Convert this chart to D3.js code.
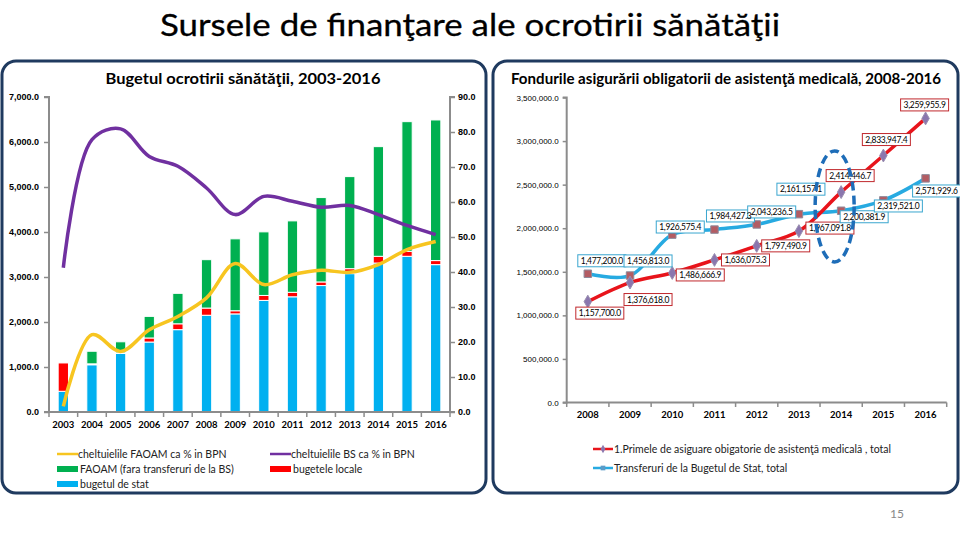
<!DOCTYPE html>
<html><head><meta charset="utf-8">
<script src="https://cdn.jsdelivr.net/npm/d3@7"></script>
<style>
html,body{margin:0;padding:0;background:#fff;}
svg{display:block;font-family:Lato,"Open Sans",sans-serif;}
</style></head>
<body>
<svg id="c" width="960" height="540"></svg>
<script>
// ---------- DATA ----------
const years = [2003,2004,2005,2006,2007,2008,2009,2010,2011,2012,2013,2014,2015,2016];
const bugetulDeStat   = [460,1050,1300,1555,1830,2150,2180,2480,2560,2810,3075,3310,3460,3275];
const bugeteleLocale  = [630,20,15,90,130,160,70,110,100,80,110,150,110,90];
const faoamFaraBS     = [0,280,245,480,677,1075,1598,1413,1587,1875,2046,2437,2882,3125];
const faoamPctBPN     = [1.6,22.1,17.3,23.5,27.3,32.6,42.4,36.4,39.2,40.5,39.9,42.1,46.4,48.7];
const bsPctBPN        = [41.2,77.8,80.9,73.0,70.2,64.0,56.4,61.6,60.2,58.5,59.0,56.4,53.3,50.7];
const leftTicks  = [0,1000,2000,3000,4000,5000,6000,7000];
const rightTicks = [0,10,20,30,40,50,60,70,80,90];

const fundYears  = [2008,2009,2010,2011,2012,2013,2014,2015,2016];
const primele    = [1157700.0,1376618.0,1486666.9,1636075.3,1797490.9,1967091.8,2414446.7,2833947.4,3259955.9];
const transferuri= [1477200.0,1456813.0,1926575.4,1984427.3,2043236.5,2161157.1,2200381.9,2319521.0,2571929.6];
const fundTicks  = [0,500000,1000000,1500000,2000000,2500000,3000000,3500000];

// label offsets (layout only)
const primeleLabelOff = [[12,11.5],[18,17],[28,2],[31,0],[29,0],[31,-3],[9,-16.5],[3,-16],[-1,-13.5]];
const transfLabelOff  = [[14,-13],[18,-14.6],[8,-7.6],[16,-13.6],[15,-12.5],[2,-25],[23,6],[15,5.6],[11,12.6]];

// ---------- SETUP ----------
const svg = d3.select("#c");
const C = {blue:"#00B0F0", red:"#FF0000", green:"#00B050", yellow:"#F7C520", purple:"#7030A0",
           axis:"#8C8C8C", frame:"#1F3A5F", rLine:"#E8141B", bLine:"#27AAE1"};

function fitText(sel, w){ sel.attr("textLength", w).attr("lengthAdjust","spacingAndGlyphs"); }

// main title
svg.append("text").attr("x",470).attr("y",36).attr("text-anchor","middle")
  .attr("font-size",31).attr("fill","#000").attr("stroke","#000").attr("stroke-width",0.3)
  .text("Sursele de finanţare ale ocrotirii sănătăţii")
  .call(fitText, 620);

// frames
function frame(x0,x1,y0,y1,r){
  const p = d3.path();
  p.moveTo(x0, y0 + r); p.arcTo(x0,y0,x0+r,y0,r); p.lineTo(x1-r,y0); p.arcTo(x1,y0,x1,y0+r,r);
  p.lineTo(x1,y1-r); p.arcTo(x1,y1,x1-r,y1,r); p.lineTo(x0+r,y1); p.arcTo(x0,y1,x0,y1-r,r); p.closePath();
  svg.append("path").attr("d",p.toString()).attr("fill","none").attr("stroke",C.frame).attr("stroke-width",3);
}
frame(2,486,61,493,14);
frame(493,958,61,493,14);

// ---------- LEFT CHART ----------
const x = d3.scaleBand().domain(years).range([49,450]).paddingInner(0.64).paddingOuter(0.32);
const yL = d3.scaleLinear().domain([0,7000]).range([412,97]);
const yR = d3.scaleLinear().domain([0,90]).range([412,97]);

svg.append("text").attr("x",243).attr("y",84).attr("text-anchor","middle")
  .attr("font-size",15).attr("font-weight","bold").attr("fill","#000")
  .text("Bugetul ocrotirii sănătăţii, 2003-2016").call(fitText,275);

// stacked bars
const stackData = years.map((yr,i)=>({year:yr, stat:bugetulDeStat[i], local:bugeteleLocale[i], faoam:faoamFaraBS[i]}));
const stack = d3.stack().keys(["stat","local","faoam"])(stackData);
const segColor = {stat:C.blue, local:C.red, faoam:C.green};
const gBars = svg.append("g");
stack.forEach(layer=>{
  gBars.selectAll(null).data(layer).join("rect")
    .attr("x", d=>x(d.data.year)).attr("width", x.bandwidth())
    .attr("y", d=>yL(d[1])).attr("height", d=>Math.max(0, yL(d[0])-yL(d[1])))
    .attr("fill", segColor[layer.key]).attr("stroke","#fff").attr("stroke-width",1);
});

// axes left chart
const axL = d3.axisLeft(yL).tickValues(leftTicks).tickFormat(d3.format(",.1f")).tickSize(5).tickPadding(5);
const gAL = svg.append("g").attr("transform","translate(49,0)").call(axL);
const axR = d3.axisRight(yR).tickValues(rightTicks).tickFormat(d3.format(".1f")).tickSize(5).tickPadding(3);
const gAR = svg.append("g").attr("transform","translate(450,0)").call(axR);
[gAL,gAR].forEach(g=>{
  g.select(".domain").attr("stroke",C.axis).attr("stroke-width",2).attr("d", g===gAL? "M-5,97H0V412H-5" : "M5,97H0V412H5");
  g.selectAll(".tick line").attr("stroke",C.axis).attr("stroke-width",1.5);
  g.selectAll(".tick text").attr("font-size",9).attr("font-weight","bold").attr("fill","#000");
});
// x axis
const gX = svg.append("g");
gX.append("line").attr("x1",49).attr("x2",450).attr("y1",412).attr("y2",412).attr("stroke",C.axis).attr("stroke-width",2);
gX.selectAll("line.t").data(d3.range(years.length+1)).join("line").attr("class","t")
  .attr("x1",i=>49+i*(401/years.length)).attr("x2",i=>49+i*(401/years.length))
  .attr("y1",412).attr("y2",417).attr("stroke",C.axis).attr("stroke-width",1.5);
gX.selectAll("text").data(years).join("text")
  .attr("x",d=>x(d)+x.bandwidth()/2).attr("y",428).attr("text-anchor","middle")
  .attr("font-size",9.5).attr("font-weight","bold").attr("fill","#000").text(d=>d);

// lines
const lineGen = (vals)=> d3.line().x((d,i)=>x(years[i])+x.bandwidth()/2).y(d=>yR(d)).curve(d3.curveCatmullRom.alpha(0.5))(vals);
svg.append("path").attr("d",lineGen(bsPctBPN)).attr("fill","none").attr("stroke",C.purple).attr("stroke-width",3.5);
svg.append("path").attr("d",lineGen(faoamPctBPN)).attr("fill","none").attr("stroke",C.yellow).attr("stroke-width",3.5);

// legend left
const legL = [
  {t:"line", c:C.yellow, x:57, y:454, label:"cheltuielile FAOAM ca % in BPN"},
  {t:"line", c:C.purple, x:270, y:454, label:"cheltuielile BS ca % in BPN"},
  {t:"rect", c:C.green, x:57, y:469, label:"FAOAM (fara transferuri de la BS)"},
  {t:"rect", c:C.red, x:270, y:469, label:"bugetele locale"},
  {t:"rect", c:C.blue, x:57, y:484, label:"bugetul de stat"}
];
legL.forEach(l=>{
  if(l.t==="line") svg.append("line").attr("x1",l.x).attr("x2",l.x+21).attr("y1",l.y).attr("y2",l.y).attr("stroke",l.c).attr("stroke-width",2.5);
  else svg.append("rect").attr("x",l.x).attr("y",l.y-3).attr("width",21).attr("height",6).attr("fill",l.c);
  svg.append("text").attr("x",l.x+(l.t==="line"?21:23)).attr("y",l.y+3.5).attr("font-size",10.5).attr("fill","#222").text(l.label);
});

// ---------- RIGHT CHART ----------
svg.append("text").attr("x",726).attr("y",84).attr("text-anchor","middle")
  .attr("font-size",15).attr("font-weight","bold").attr("fill","#000")
  .text("Fondurile  asigurării obligatorii de asistenţă medicală, 2008-2016").call(fitText,430);

const x2 = d3.scaleBand().domain(fundYears).range([566.7,946.7]);
const y2 = d3.scaleLinear().domain([0,3500000]).range([402.5,97.5]);
const cx = d=> x2(d)+x2.bandwidth()/2;

const ax2 = d3.axisLeft(y2).tickValues(fundTicks).tickFormat(d3.format(",.1f")).tickSize(4).tickPadding(4);
const gA2 = svg.append("g").attr("transform","translate(566.7,0)").call(ax2);
gA2.select(".domain").attr("stroke",C.axis).attr("stroke-width",2).attr("d","M-4,97.5H0V402.5H-4");
gA2.selectAll(".tick line").attr("stroke",C.axis).attr("stroke-width",1.5);
gA2.selectAll(".tick text").attr("font-size",8).attr("fill","#000");

const gX2 = svg.append("g");
gX2.append("line").attr("x1",566.7).attr("x2",946.7).attr("y1",402.5).attr("y2",402.5).attr("stroke",C.axis).attr("stroke-width",2);
gX2.selectAll("line.t").data(d3.range(fundYears.length+1)).join("line").attr("class","t")
  .attr("x1",i=>566.7+i*x2.step()).attr("x2",i=>566.7+i*x2.step())
  .attr("y1",402.5).attr("y2",407).attr("stroke",C.axis).attr("stroke-width",1.5);
gX2.selectAll("text").data(fundYears).join("text")
  .attr("x",d=>cx(d)).attr("y",418).attr("text-anchor","middle")
  .attr("font-size",9.5).attr("font-weight","bold").attr("fill","#000").text(d=>d);

const line2 = d3.line().x((d,i)=>cx(fundYears[i])).y(d=>y2(d)).curve(d3.curveCatmullRom.alpha(0.5));
svg.append("path").attr("d",line2(transferuri)).attr("fill","none").attr("stroke",C.bLine).attr("stroke-width",3.5);
svg.append("path").attr("d",line2(primele)).attr("fill","none").attr("stroke",C.rLine).attr("stroke-width",3.5);

// markers
const diamond = d3.symbol().type(d3.symbolDiamond).size(48);
const square = d3.symbol().type(d3.symbolSquare).size(56);
svg.append("g").selectAll("path").data(transferuri).join("path")
  .attr("d",square).attr("transform",(d,i)=>`translate(${cx(fundYears[i])},${y2(d)})`)
  .attr("fill","#B35C63").attr("stroke","#8E8A9A").attr("stroke-width",1);
svg.append("g").selectAll("path").data(primele).join("path")
  .attr("d",diamond).attr("transform",(d,i)=>`translate(${cx(fundYears[i])},${y2(d)})`)
  .attr("fill","#8A76AE").attr("stroke","#9A8FB0").attr("stroke-width",1);

// data labels
const fmt = d3.format(",.1f");
function dataLabels(vals, offs, border){
  const g = svg.append("g");
  vals.forEach((v,i)=>{
    const px = cx(fundYears[i])+offs[i][0], py = y2(v)+offs[i][1];
    const t = g.append("text").attr("x",px).attr("y",py+3).attr("text-anchor","middle")
      .attr("font-size",8.5).attr("fill","#000").text(fmt(v)).attr("letter-spacing",-0.3);
    const w = t.node().getComputedTextLength()+6;
    g.insert("rect","text").attr("x",px-w/2).attr("y",py-6).attr("width",w).attr("height",12)
      .attr("fill","#fff").attr("stroke",border).attr("stroke-width",1);
  });
}
dataLabels(primele, primeleLabelOff, "#C0282D");
dataLabels(transferuri, transfLabelOff, "#3AA6CF");

// dashed ellipse annotation around 2014
svg.append("ellipse").attr("cx",cx(2014)-6.5).attr("cy",y2(2250000)).attr("rx",19.5).attr("ry",55.5)
  .attr("fill","none").attr("stroke","#1E6DB8").attr("stroke-width",3.5).attr("stroke-dasharray","9,5");

// legend right
const lg = svg.append("g");
lg.append("line").attr("x1",593).attr("x2",613).attr("y1",449).attr("y2",449).attr("stroke",C.rLine).attr("stroke-width",2.5);
lg.append("path").attr("d",d3.symbol().type(d3.symbolDiamond).size(20)).attr("transform","translate(603,449)").attr("fill","#8A76AE");
lg.append("text").attr("x",614).attr("y",452.5).attr("font-size",10.5).attr("fill","#222")
  .text("1.Primele de asiguare obigatorie de asistenţă medicală , total");
lg.append("line").attr("x1",593).attr("x2",613).attr("y1",468).attr("y2",468).attr("stroke",C.bLine).attr("stroke-width",2.5);
lg.append("path").attr("d",d3.symbol().type(d3.symbolSquare).size(22)).attr("transform","translate(603,468)").attr("fill","#5B9BC8");
lg.append("text").attr("x",614).attr("y",471.5).attr("font-size",10.5).attr("fill","#222")
  .text("Transferuri de la Bugetul de Stat, total");

// page number
svg.append("text").attr("x",897).attr("y",518).attr("text-anchor","middle").attr("font-size",12).attr("fill","#888").text("15");
</script>
</body></html>
